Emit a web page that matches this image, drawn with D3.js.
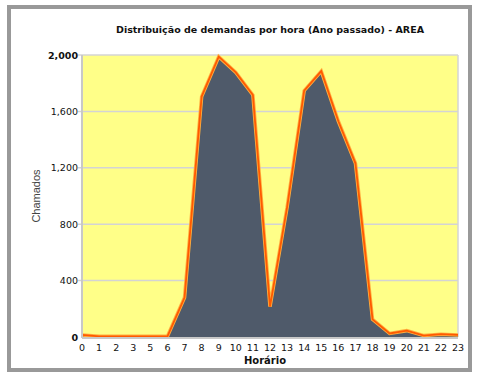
<!DOCTYPE html>
<html><head><meta charset="utf-8">
<script src="https://cdn.jsdelivr.net/npm/d3@7"></script>
<style>body{margin:0;background:#fff}</style>
</head><body>
<script>
const hours = ["0","1","2","3","5","6","7","8","9","10","11","12","13","14","15","16","17","18","19","20","21","22","23"];
const chamados = [15,5,5,5,5,5,280,1705,1988,1877,1716,215,920,1747,1886,1530,1232,125,25,45,10,20,15];
const yTicks = [0,400,800,1200,1600,2000];
const title = "Distribuição de demandas por hora (Ano passado) - AREA";

const W = 478, H = 381;
const svg = d3.select("body").append("svg").attr("width", W).attr("height", H);
const font = "DejaVu Sans, Verdana, sans-serif";

// outer frame
svg.append("rect").attr("x", 9).attr("y", 7).attr("width", 461).attr("height", 363)
  .attr("fill", "#fff").attr("stroke", "#999").attr("stroke-width", 4);

const L = 82, R = 458, T = 55, B = 337;
const x = d3.scalePoint().domain(hours).range([L, R]);
const y = d3.scaleLinear().domain([0, 2000]).range([B, T]);

svg.append("rect").attr("x", L).attr("y", T).attr("width", R - L).attr("height", B - T)
  .attr("fill", "#ffff88");

// grid
svg.append("g").selectAll("line").data(yTicks.slice(1)).join("line")
  .attr("x1", L - 4).attr("x2", R).attr("y1", d => y(d)).attr("y2", d => y(d))
  .attr("stroke", "#d4d4d4").attr("stroke-width", 1.5);
svg.append("line").attr("x1", R).attr("x2", R).attr("y1", T).attr("y2", B)
  .attr("stroke", "#d4d4d4").attr("stroke-width", 1.5);

const area = d3.area().x((d, i) => x(hours[i])).y0(B).y1(d => y(d));
const line = d3.line().x((d, i) => x(hours[i])).y(d => y(d));
svg.append("path").datum(chamados).attr("d", area).attr("fill", "#4f5a6a");
svg.append("path").datum(chamados).attr("d", line).attr("fill", "none")
  .attr("stroke", "#ffb040").attr("stroke-width", 3.5).attr("stroke-linejoin", "miter");
svg.append("path").datum(chamados).attr("d", line).attr("fill", "none")
  .attr("stroke", "#ff5a00").attr("stroke-width", 1.8).attr("stroke-linejoin", "miter");

// axes lines
svg.append("line").attr("x1", L).attr("x2", L).attr("y1", T).attr("y2", B + 1)
  .attr("stroke", "#c8c8c8").attr("stroke-width", 2);
svg.append("line").attr("x1", L).attr("x2", R).attr("y1", B + 1).attr("y2", B + 1)
  .attr("stroke", "#c8c8c8").attr("stroke-width", 2);

// y labels
svg.append("g").selectAll("text").data(yTicks).join("text")
  .attr("x", 78).attr("y", d => y(d) + 3.5).attr("text-anchor", "end")
  .attr("font-family", font).attr("font-size", 9.5)
  .attr("font-weight", d => (d === 0 || d === 2000) ? "bold" : "normal")
  .attr("fill", "#111").text(d => d3.format(",")(d));

// x labels
svg.append("g").selectAll("text").data(hours).join("text")
  .attr("x", d => x(d)).attr("y", 351).attr("text-anchor", "middle")
  .attr("font-family", font).attr("font-size", 9.5).attr("fill", "#111").text(d => d);

svg.append("text").attr("x", 270).attr("y", 33).attr("text-anchor", "middle")
  .attr("font-family", font).attr("font-size", 9.5).attr("font-weight", "bold")
  .attr("fill", "#111").text(title);

svg.append("text").attr("x", 265).attr("y", 364).attr("text-anchor", "middle")
  .attr("font-family", font).attr("font-size", 10).attr("font-weight", "bold")
  .attr("fill", "#111").text("Horário");

svg.append("text").attr("transform", "translate(40,196) rotate(-90)").attr("text-anchor", "middle")
  .attr("font-family", "Liberation Sans, Arial, sans-serif").attr("font-size", 11)
  .attr("fill", "#444").text("Chamados");
</script>
</body></html>
